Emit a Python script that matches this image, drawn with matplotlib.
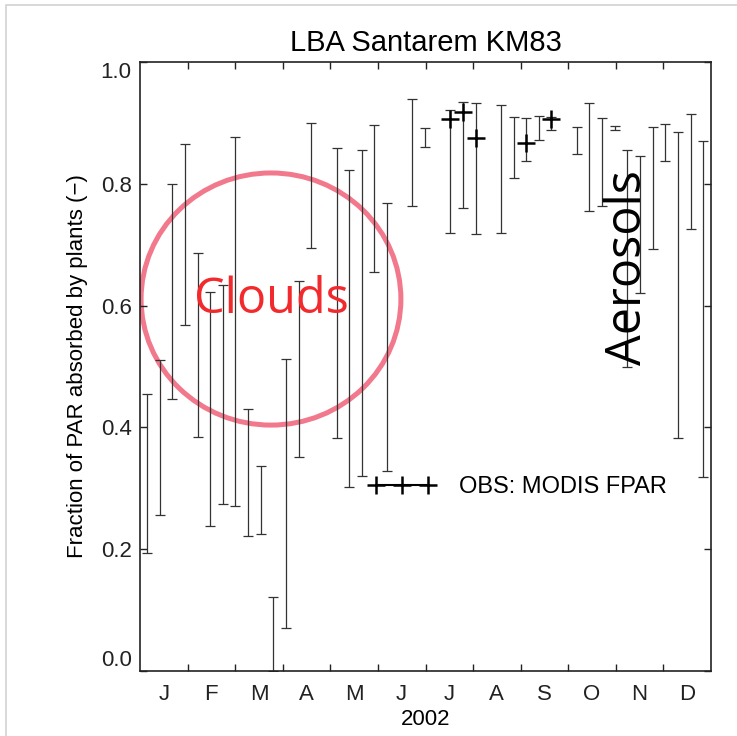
import numpy as np
import matplotlib
matplotlib.use('Agg')
import matplotlib.pyplot as plt
from matplotlib.lines import Line2D
from matplotlib.patches import Ellipse, Rectangle

plt.rcParams['font.family'] = ['Liberation Sans', 'DejaVu Sans']

# 8-day composite start days (2002); gaps are composites with no model range
doy = [1, 9, 17, 25, 33, 41, 49, 57, 65, 73, 81, 89, 97, 105,
       121, 129, 137, 145, 153, 169, 177, 193, 201, 209,
       225, 233, 241, 249, 257, 273, 281, 289, 297, 305, 313,
       321, 329, 337, 345, 353]

# modelled FPAR range per composite
fpar_max = [0.455, 0.510, 0.800, 0.865, 0.686, 0.622, 0.634, 0.877, 0.430, 0.337,
            0.121, 0.512, 0.640, 0.900,
            0.859, 0.823, 0.855, 0.897, 0.768, 0.940, 0.891, 0.921, 0.934, 0.932,
            0.929, 0.910, 0.908, 0.911, 0.910, 0.893, 0.932, 0.908, 0.895, 0.855,
            0.846, 0.893, 0.898, 0.885, 0.915, 0.870]
fpar_min = [0.194, 0.256, 0.447, 0.568, 0.384, 0.238, 0.274, 0.271, 0.222, 0.225,
            0.000, 0.070, 0.351, 0.694,
            0.383, 0.302, 0.320, 0.655, 0.328, 0.763, 0.861, 0.719, 0.760, 0.717,
            0.719, 0.810, 0.837, 0.872, 0.888, 0.849, 0.755, 0.763, 0.888, 0.499,
            0.620, 0.693, 0.837, 0.383, 0.726, 0.319]

# MODIS FPAR observations
obs_doy = [193, 201, 209, 241, 257]
obs_fpar = [0.906, 0.918, 0.875, 0.867, 0.906]

months = ['J', 'F', 'M', 'A', 'M', 'J', 'J', 'A', 'S', 'O', 'N', 'D']

# composite index used as the x coordinate
x = (np.array(doy) - 1) / 8.0
obs_x = (np.array(obs_doy) - 1) / 8.0
x0, x1 = -0.55, 44.62

fig = plt.figure(figsize=(7.37, 7.36), dpi=100)
fig.patches.append(Rectangle((6 / 737, -0.1), 1.2, 1.1 - 5 / 736, fill=False,
                             edgecolor='#d2d2d2', lw=1.2, transform=fig.transFigure))
ax = fig.add_axes([140 / 737, 65 / 736, 571 / 737, 609 / 736])

hi = np.array(fpar_max)
lo = np.array(fpar_min)
mid = (hi + lo) / 2
ax.errorbar(x, mid, yerr=[mid - lo, hi - mid], fmt='none', ecolor='#333333',
            elinewidth=0.9, capsize=3.3, capthick=0.9)
ax.plot(obs_x, obs_fpar, '+', color='k', ms=13, mew=1.8)

ax.set_xlim(x0, x1)
ax.set_ylim(0, 1)

edges = np.linspace(x0, x1, 13)
ax.set_xticks(edges[1:-1])
ax.set_xticklabels([])
ax.set_xticks((edges[:-1] + edges[1:]) / 2, minor=True)
ax.set_xticklabels(months, minor=True)
ax.tick_params(axis='x', which='minor', length=0, pad=9, labelsize=16,
               labelcolor='#222222')
ax.tick_params(axis='both', which='major', direction='in', length=5, width=1,
               top=True, right=True, labelsize=16, colors='#222222')
ax.tick_params(axis='y', pad=6)

ax.set_yticks([0.0, 0.2, 0.4, 0.6, 0.8, 1.0])
ax.set_yticklabels(['0.0', '0.2', '0.4', '0.6', '0.8', '1.0'])
ylabels = ax.get_yticklabels()
ylabels[0].set_va('bottom')
ylabels[-1].set_va('top')

for s in ax.spines.values():
    s.set_linewidth(1.2)
    s.set_color('#222222')

ax.set_title('LBA Santarem KM83', fontsize=21, pad=8)
ax.set_xlabel('2002', fontsize=16, labelpad=3)
ax.set_ylabel('Fraction of PAR absorbed by plants (\u2212)', fontsize=16, labelpad=9)

handle = Line2D([], [], color='k', lw=1.5, marker='+', ms=13, mew=1.8)
ax.legend([handle], ['OBS: MODIS FPAR'], loc='center left',
          bbox_to_anchor=(0.401, 0.302), numpoints=3, handlelength=2.8,
          handletextpad=1.0, borderpad=0, borderaxespad=0, frameon=False,
          fontsize=17)

# annotations
ax.add_patch(Ellipse((0.2294, 0.6108), 0.455, 0.414, transform=ax.transAxes,
                     fill=False, edgecolor='#f06078', alpha=0.85, lw=3.6))
ax.text(0.2294, 0.609, 'Clouds', transform=ax.transAxes, fontsize=35,
        family='Open Sans', color='#f22a2e', ha='center', va='center')
ax.text(0.8546, 0.6617, 'Aerosols', transform=ax.transAxes, fontsize=35,
        family='Open Sans', color='k', rotation=90, ha='center', va='center')

fig.savefig('out.png', dpi=100)
